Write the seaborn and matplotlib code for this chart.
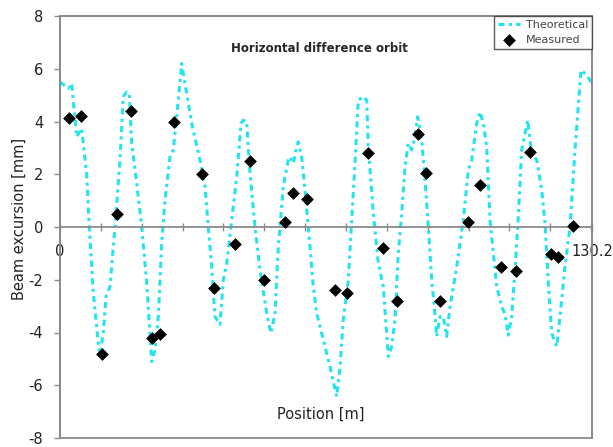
import numpy as np
import pandas as pd
import matplotlib
matplotlib.use('agg')
import matplotlib.pyplot as plt
import seaborn as sns

# theoretical difference orbit
theo_pos = [0.0, 2.03, 2.86, 4.09, 5.31, 5.70, 6.53, 7.17, 8.15, 9.37, 9.79,
            10.6, 11.26, 12.24, 13.46, 14.68, 15.49, 16.32, 16.96, 17.55, 18.77,
            20.0, 21.22, 22.44, 23.25, 24.06, 24.89, 25.70, 26.92, 27.73, 28.56,
            29.78, 30.59, 32.23, 34.26, 35.49, 36.29, 37.13, 37.93, 39.16, 39.97,
            40.80, 42.02, 43.25, 44.30, 44.86, 45.69, 46.50, 47.72, 48.95, 50.59,
            51.64, 52.62, 53.43, 54.65, 55.07, 55.87, 56.29, 57.10, 57.93, 58.32,
            59.15, 59.96, 61.18, 61.99, 62.82, 64.44, 66.08, 67.72, 68.53, 69.33,
            70.56, 71.39, 72.20, 73.0, 74.23, 75.06, 75.45, 76.68, 77.90, 79.12,
            80.35, 81.18, 81.99, 82.79, 83.63, 84.43, 85.24, 86.07, 86.71, 87.54,
            88.52, 89.33, 90.14, 90.97, 91.60, 92.19, 93.0, 93.81, 94.64, 95.45,
            97.09, 98.70, 99.93, 100.76, 101.98, 102.79, 103.6, 104.43, 105.24, 106.88,
            108.10, 108.9, 109.71, 110.54, 111.36, 112.17, 112.99, 113.80, 114.46, 115.44,
            116.67, 117.89, 118.70, 119.50, 120.34, 121.56, 122.37, 123.59, 124.82, 126.04,
            127.51, 128.9, 130.2]
theo_val = [5.5, 5.25, 5.44, 3.42, 3.74, 3.17, 2.0, 0.0, -2.5, -4.4, -4.85,
            -4.0, -2.64, -2.26, 0.0, 2.54, 4.94, 5.12, 5.06, 3.17, 1.65,
            0.0, -2.1, -5.1, -4.66, -3.4, -0.6, 1.02, 2.66, 2.92, 4.18,
            6.2, 5.44, 3.93, 2.54, 1.53, 0.0, -1.5, -3.4, -3.7, -2.0,
            -1.38, 0.27, 1.9, 3.93, 4.05, 3.99, 2.03, 0.0, -1.63, -3.27,
            -4.03, -3.27, -0.75, 1.53, 1.9, 2.54, 2.66, 2.41, 3.04, 3.23,
            2.66, 1.4, -0.75, -2.26, -3.27, -4.28, -5.29, -6.43, -5.3, -3.52,
            -2.0, 0.27, 2.41, 4.81, 4.94, 4.81, 3.04, 0.52, -1.38, -2.26,
            -4.91, -4.53, -3.52, -1.0, 0.52, 2.28, 3.17, 2.92, 3.3, 4.18,
            3.3, 1.78, 0.0, -2.0, -3.02, -4.15, -3.4, -3.4, -4.15, -3.02,
            -1.5, 0.27, 2.16, 2.54, 3.93, 4.37, 3.93, 3.04, 0.27, -2.26,
            -3.02, -3.3, -4.1, -3.4, -1.63, 0.39, 2.92, 3.55, 4.05, 2.79,
            2.54, 1.4, 0.14, -2.13, -4.03, -4.53, -3.4, -1.5, 0.0, 2.92,
            5.95, 5.76, 5.44]

# measured BPM readings
meas_pos = [2.28, 5.06, 10.36, 13.87, 17.38, 22.44, 24.47, 27.9, 34.83, 37.69,
            42.91, 46.5, 49.93, 55.07, 56.95, 60.37, 67.3, 70.3, 75.46, 78.97,
            82.4, 87.54, 89.49, 93.0, 99.93, 102.79, 108.0, 111.6, 115.03, 120.1,
            121.96, 125.5]
meas_val = [4.12, 4.20, -4.81, 0.49, 4.39, -4.22, -4.07, 3.99, 2.01, -2.32,
            -0.63, 2.5, -2.01, 0.18, 1.30, 1.06, -2.40, -2.50, 2.79, -0.78,
            -2.79, 3.51, 2.06, -2.82, 0.18, 1.59, -1.53, -1.65, 2.83, -1.01,
            -1.15, 0.02]

theo = pd.DataFrame({'pos': theo_pos, 'val': theo_val})
meas = pd.DataFrame({'pos': meas_pos, 'val': meas_val})

sns.set_style('white')
plt.rcParams['axes.unicode_minus'] = False
plt.rcParams['font.family'] = ['DejaVu Sans']

grey = '#8a8a8a'
cyan = '#25e3ec'

fig = plt.figure(figsize=(6.13, 4.47), dpi=100)
ax = fig.add_axes([60/613, 1-438/447, 532/613, 422/447])

sns.lineplot(data=theo, x='pos', y='val', ax=ax, sort=False, estimator=None,
             color=cyan, linewidth=2.2, linestyle=(0, (2.0, 1.4, 1, 1.4)),
             label='Theoretical')
sns.scatterplot(data=meas, x='pos', y='val', ax=ax, marker='D', color='black',
                edgecolor='black', s=36, zorder=3, label='Measured')

ax.set_xlim(0, 130.2)
ax.set_ylim(-8, 8)
ax.set_yticks(np.arange(-8, 9, 2))
ax.set_xticks([0, 130.2])
ax.set_xticklabels(['0', '130.2'])
ax.set_xticks(np.arange(10, 131, 10), minor=True)

for s in ['top', 'right', 'left']:
    ax.spines[s].set_color(grey)
    ax.spines[s].set_linewidth(1.3)
ax.spines['bottom'].set_position(('data', 0))
ax.spines['bottom'].set_color(grey)
ax.spines['bottom'].set_linewidth(1.3)
ax.patch.set_edgecolor(grey)
ax.patch.set_linewidth(1.3)

ax.tick_params(axis='y', direction='out', length=4, width=1, color=grey,
               labelsize=10.5, pad=8, left=True, labelcolor='#222222')
ax.tick_params(axis='x', which='both', direction='inout', length=6, width=1,
               color=grey, labelsize=10.5, pad=9, bottom=True, labelcolor='#222222')

ax.set_ylabel('Beam excursion [mm]', fontsize=10.5, color='#222222')
ax.yaxis.set_label_coords(-0.062, 0.52)
ax.set_xlabel('Position [m]', fontsize=10.5, color='#222222')
ax.xaxis.set_label_coords(0.49, 0.075)

ax.text(0.487, 0.922, 'Horizontal difference orbit', transform=ax.transAxes,
        ha='center', va='center', fontsize=8.5, fontweight='bold')

leg = ax.legend(loc='upper right', bbox_to_anchor=(1, 1), borderaxespad=0,
                fontsize=8, frameon=True, fancybox=False, edgecolor='#333333',
                handlelength=2.0, handletextpad=0.5, borderpad=0.35,
                labelspacing=0.45)
leg.get_frame().set_linewidth(1)
for t in leg.get_texts():
    t.set_color('#444444')

fig.savefig('out.png', dpi=100)
